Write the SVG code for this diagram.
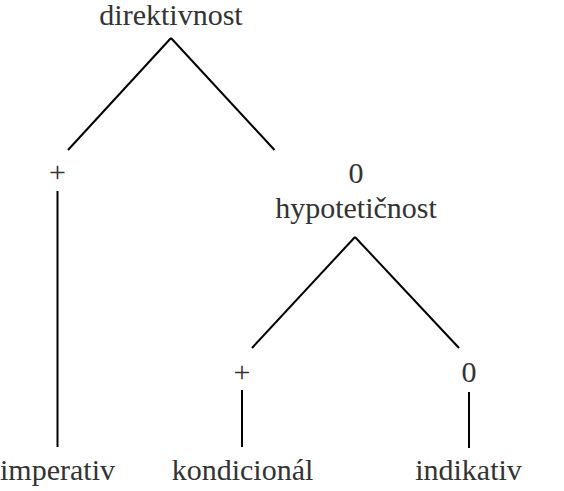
<svg xmlns="http://www.w3.org/2000/svg" width="564" height="491" viewBox="0 0 564 491">
<style>
.t{font-size:30px;fill:#333;text-anchor:middle}
.c line{stroke:#000;stroke-width:2;fill:none}
</style>
<rect width="564" height="491" fill="#fff"/>
<g class="c" id="connectors">
<line x1="171" y1="38" x2="68" y2="150"/>
<line x1="171" y1="38" x2="274.5" y2="150"/>
<line x1="57.5" y1="191" x2="57.5" y2="447"/>
<line x1="355" y1="237" x2="252" y2="348"/>
<line x1="355" y1="237" x2="459" y2="348"/>
<line x1="242" y1="390" x2="242" y2="447"/>
<line x1="469" y1="392" x2="469" y2="448"/>
</g>
<g font-family="Liberation Serif, Times New Roman, serif">
<g id="n-direktivnost"><text class="t" x="171" y="25">direktivnost</text></g>
<g id="n-plus1"><text class="t" x="57.5" y="182">+</text></g>
<g id="n-hypoteticnost"><text class="t" x="356" y="183">0</text><text class="t" x="356" y="218">hypotetičnost</text></g>
<g id="n-plus2"><text class="t" x="242" y="382">+</text></g>
<g id="n-zero2"><text class="t" x="469" y="382">0</text></g>
<g id="n-imperativ"><text class="t" x="57.5" y="480">imperativ</text></g>
<g id="n-kondicional"><text class="t" x="242.5" y="480">kondicionál</text></g>
<g id="n-indikativ"><text class="t" x="468.5" y="480">indikativ</text></g>
</g>
</svg>
